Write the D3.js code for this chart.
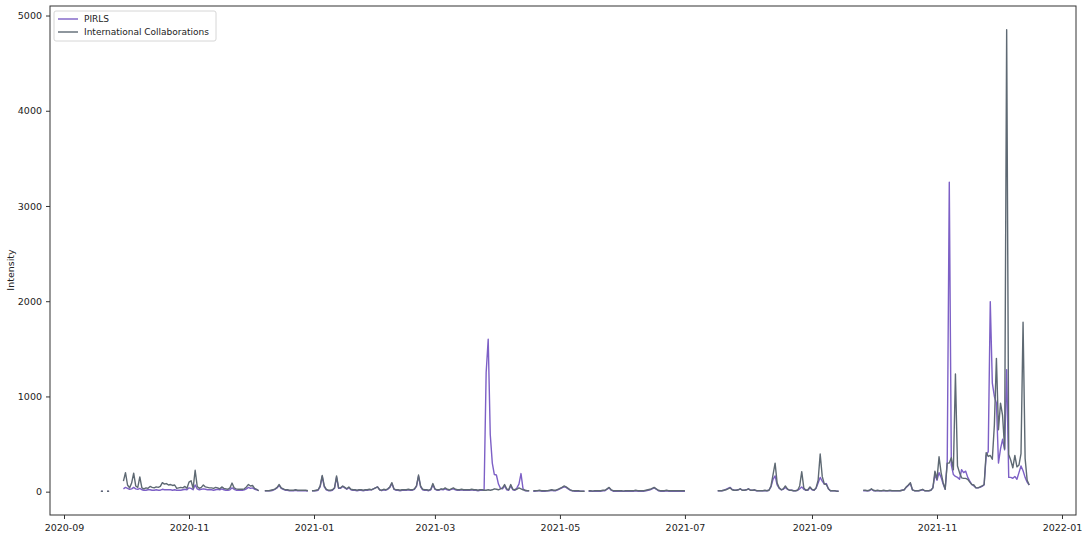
<!DOCTYPE html>
<html>
<head>
<meta charset="utf-8">
<script src="https://cdn.jsdelivr.net/npm/d3@7"></script>
<style>
  body { margin: 0; background: #fff; }
  text { font-family: "DejaVu Sans", sans-serif; fill: #222; }
</style>
</head>
<body>
<svg id="chart" width="1084" height="537"></svg>
<script>
// each segment is a run of daily values, separated from the next one by missing days
var segmentStarts = ["2020-09-19", "2020-09-22", "2020-09-30", "2020-12-08", "2020-12-31",
                     "2021-04-18", "2021-05-15", "2021-07-17", "2021-09-26"];

var pirls = [
  [3, 3],
  [3, 3],
  [30, 45, 35, 25, 30, 45, 30, 25, 35, 20, 15, 15, 20, 20, 15, 15, 20, 15, 15, 25, 20, 20, 20,
   20, 15, 20, 15, 15, 15, 20, 25, 20, 40, 35, 20, 70, 30, 20, 25, 30, 25, 20, 20, 20, 15, 20,
   25, 20, 30, 20, 15, 15, 20, 40, 25, 15, 15, 15, 15, 20, 30, 45, 35, 40, 25, 20, 10],
  [10, 10, 10, 10, 15, 25, 40, 65, 35, 25, 15, 15, 10, 10, 10, 15, 10, 10, 10, 10, 10, 5],
  [10, 10, 10, 15, 50, 160, 50, 20, 10, 10, 15, 35, 150, 35, 35, 55, 40, 25, 40, 20, 15, 15,
   10, 15, 15, 10, 15, 15, 20, 20, 30, 40, 50, 20, 10, 20, 15, 25, 45, 85, 25, 15, 15, 10, 15,
   15, 15, 20, 15, 15, 25, 55, 160, 50, 20, 15, 15, 10, 20, 70, 25, 15, 15, 25, 20, 30, 20, 15,
   25, 30, 20, 15, 15, 20, 15, 15, 15, 15, 20, 15, 15, 10, 15, 15, 15, 1250, 1600, 600, 300,
   180, 175, 80, 35, 30, 60, 20, 15, 60, 20, 15, 40, 80, 190, 30, 10, 10, 10],
  [5, 5, 10, 10, 5, 5, 5, 10, 10, 15, 10, 10, 20, 30, 40, 50, 45, 30, 15, 10, 5, 5, 5, 5, 5, 5],
  [5, 5, 5, 5, 5, 5, 5, 10, 10, 25, 40, 15, 5, 5, 5, 5, 5, 5, 5, 5, 5, 5, 5, 10, 5, 5, 5, 5,
   10, 15, 20, 30, 40, 25, 10, 5, 5, 5, 10, 5, 5, 5, 5, 5, 5, 5, 5, 5],
  [10, 10, 10, 15, 25, 35, 45, 25, 15, 15, 20, 30, 15, 15, 20, 30, 15, 15, 15, 10, 10, 10, 10,
   10, 10, 15, 50, 130, 165, 70, 35, 20, 25, 45, 25, 15, 15, 10, 10, 15, 30, 50, 25, 15, 15, 40,
   20, 15, 35, 90, 150, 110, 80, 85, 30, 10, 10, 10, 5, 5],
  [10, 10, 10, 10, 25, 10, 10, 10, 10, 10, 10, 10, 10, 10, 10, 10, 10, 10, 10, 15, 20, 45, 65,
   85, 20, 10, 10, 10, 15, 20, 10, 10, 10, 15, 40, 180, 120, 200, 150, 80, 25, 320, 3250, 280,
   180, 160, 150, 130, 230, 200, 215, 150, 110, 75, 60, 40, 40, 45, 55, 70, 380, 420, 1996,
   1140, 1000, 930, 300, 450, 550, 440, 1280, 150, 150, 140, 160, 130, 200, 270, 220, 150,
   100, 70]
];

var intl = [
  [5, 5],
  [5, 5],
  [110, 200, 70, 40, 90, 195, 60, 45, 155, 40, 30, 40, 35, 55, 45, 40, 50, 45, 55, 95, 80, 85,
   70, 75, 65, 70, 35, 40, 45, 40, 55, 35, 100, 115, 35, 225, 55, 35, 45, 70, 50, 45, 40, 40,
   35, 45, 40, 30, 50, 35, 30, 25, 40, 90, 40, 30, 25, 25, 25, 30, 50, 75, 60, 65, 35, 25, 10],
  [10, 10, 10, 15, 20, 30, 45, 75, 40, 30, 20, 20, 15, 15, 15, 20, 15, 15, 15, 15, 15, 10],
  [10, 10, 15, 20, 60, 170, 60, 25, 15, 15, 20, 40, 165, 40, 40, 60, 45, 30, 50, 25, 20, 20,
   15, 20, 20, 15, 20, 20, 25, 20, 30, 40, 50, 20, 15, 25, 20, 30, 50, 95, 30, 20, 20, 15, 20,
   20, 20, 25, 20, 20, 30, 60, 175, 60, 25, 20, 20, 15, 25, 85, 30, 20, 20, 30, 25, 40, 25, 20,
   30, 40, 25, 20, 20, 25, 20, 20, 20, 20, 25, 20, 20, 15, 20, 20, 15, 15, 20, 15, 20, 30, 25,
   20, 30, 40, 75, 30, 20, 75, 25, 20, 25, 40, 30, 20, 15, 10, 10],
  [10, 10, 10, 15, 10, 10, 10, 10, 15, 20, 15, 15, 25, 35, 45, 60, 50, 35, 20, 10, 10, 10, 10,
   5, 5, 5],
  [10, 10, 5, 10, 10, 10, 10, 15, 15, 30, 45, 20, 10, 10, 10, 10, 10, 5, 10, 10, 10, 10, 10,
   15, 10, 10, 10, 10, 15, 20, 25, 35, 45, 30, 15, 10, 10, 10, 15, 10, 10, 10, 10, 10, 10, 10,
   10, 10],
  [10, 10, 10, 15, 20, 30, 40, 20, 15, 15, 20, 30, 15, 15, 20, 30, 15, 15, 20, 10, 10, 10, 10,
   15, 10, 15, 60, 180, 300, 90, 40, 20, 30, 60, 30, 15, 15, 10, 10, 15, 60, 210, 40, 15, 20,
   50, 25, 15, 40, 120, 395, 160, 80, 75, 30, 10, 10, 10, 5, 5],
  [15, 15, 10, 15, 30, 15, 10, 15, 10, 10, 15, 10, 10, 15, 10, 10, 10, 10, 10, 15, 20, 50, 70,
   95, 20, 10, 10, 10, 15, 25, 10, 10, 10, 15, 40, 216, 130, 366, 200, 94, 25, 300, 300, 356,
   230, 1235, 270, 200, 145, 140, 140, 130, 100, 75, 70, 40, 40, 50, 60, 75, 410, 370, 380,
   340, 700, 1400, 650, 930, 800, 450, 4850, 390, 330, 250, 380, 260, 280, 400, 1780, 350,
   120, 70]
];

var seriesNames = ["PIRLS", "International Collaborations"];
var seriesColors = ["#7d60c6", "#5e6973"];
var yTicks = [0, 1000, 2000, 3000, 4000, 5000];

var svg = d3.select("#chart");
var plotLeft = 50, plotRight = 1076, plotTop = 6, plotBottom = 515;
var axisColor = "#333";

var parse = d3.utcParse("%Y-%m-%d");

function toPoints(segments) {
  var pts = [];
  segments.forEach(function(vals, s) {
    var start = parse(segmentStarts[s]);
    vals.forEach(function(v, i) {
      pts.push({ date: d3.utcDay.offset(start, i), value: v });
    });
    pts.push(null); // gap
  });
  return pts;
}

var allSeries = [toPoints(pirls), toPoints(intl)];

var x = d3.scaleUtc()
  .domain([new Date(Date.UTC(2020, 7, 25, 4)), new Date(Date.UTC(2022, 0, 7, 20))])
  .range([plotLeft, plotRight]);

var y = d3.scaleLinear()
  .domain([-245, 5100])
  .range([plotBottom, plotTop]);

var line = d3.line()
  .defined(function(d) { return d !== null; })
  .x(function(d) { return x(d.date); })
  .y(function(d) { return y(d.value); });

// lines
allSeries.forEach(function(pts, i) {
  svg.append("path")
    .datum(pts)
    .attr("fill", "none")
    .attr("stroke", seriesColors[i])
    .attr("stroke-width", 1.4)
    .attr("stroke-linejoin", "round")
    .attr("d", line);
});

// x axis
var xAxis = svg.append("g")
  .attr("transform", "translate(0," + plotBottom + ")")
  .call(d3.axisBottom(x)
    .ticks(d3.utcMonth.every(2))
    .tickFormat(d3.utcFormat("%Y-%m"))
    .tickSize(4)
    .tickPadding(5));
xAxis.select(".domain").remove();
xAxis.selectAll("line").attr("stroke", axisColor);
xAxis.selectAll("text").style("font-size", "9.5px").attr("fill", "#222");

// y axis
var yAxis = svg.append("g")
  .attr("transform", "translate(" + plotLeft + ",0)")
  .call(d3.axisLeft(y)
    .tickValues(yTicks)
    .tickFormat(d3.format("d"))
    .tickSize(4)
    .tickPadding(4));
yAxis.select(".domain").remove();
yAxis.selectAll("line").attr("stroke", axisColor);
yAxis.selectAll("text").style("font-size", "9.5px").attr("fill", "#222");

// frame
svg.append("rect")
  .attr("x", plotLeft).attr("y", plotTop)
  .attr("width", plotRight - plotLeft).attr("height", plotBottom - plotTop)
  .attr("fill", "none")
  .attr("stroke", axisColor)
  .attr("stroke-width", 1);

svg.append("text")
  .attr("transform", "translate(14,270) rotate(-90)")
  .attr("text-anchor", "middle")
  .style("font-size", "9.5px")
  .text("Intensity");

// legend
var legend = svg.append("g").attr("transform", "translate(54,11)");
legend.append("rect")
  .attr("width", 162).attr("height", 30)
  .attr("rx", 2)
  .attr("fill", "#fff")
  .attr("fill-opacity", 0.8)
  .attr("stroke", "#d6d6d6");
seriesNames.forEach(function(name, i) {
  var row = legend.append("g").attr("transform", "translate(0," + (8 + i * 13) + ")");
  row.append("line")
    .attr("x1", 4).attr("x2", 24)
    .attr("stroke", seriesColors[i])
    .attr("stroke-width", 1.4);
  row.append("text")
    .attr("x", 30).attr("dy", "0.35em")
    .style("font-size", "9px")
    .text(name);
});
</script>
</body>
</html>
